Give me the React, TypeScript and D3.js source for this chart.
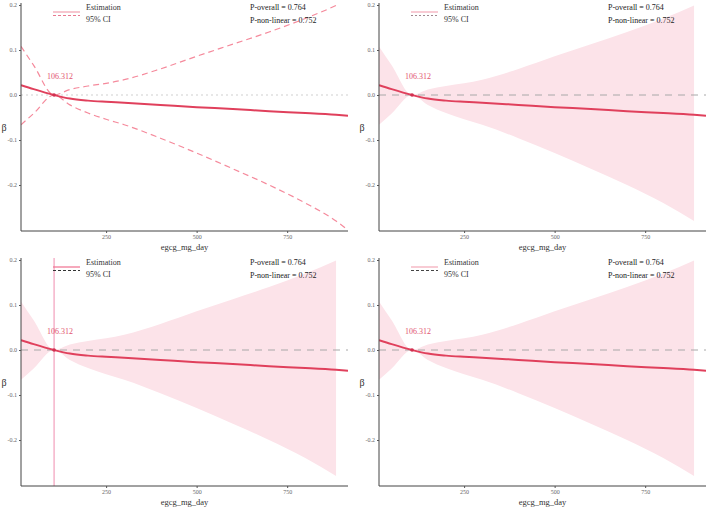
import * as d3 from "d3";
import { useEffect, useRef } from "react";

// exposure grid and fitted spline
const X_VALUES = [15, 50, 106.312, 150, 200, 250, 300, 400, 500, 600, 700, 800, 885, 918];
const ESTIMATE = [0.022, 0.013, 0, -0.008, -0.0125, -0.015, -0.017, -0.022, -0.027, -0.031, -0.036, -0.04, -0.044, -0.046];
const CI_LOWER = [-0.066, -0.041, 0, -0.022, -0.04, -0.054, -0.066, -0.096, -0.129, -0.164, -0.2, -0.24, -0.28, -0.3];
const CI_UPPER = [0.108, 0.066, 0, 0.012, 0.02, 0.026, 0.034, 0.058, 0.086, 0.113, 0.14, 0.17, 0.199, 0.212];

const REF_VALUE = 106.312;
const Y_TICKS = [0.2, 0.1, 0, -0.1, -0.2];
const X_TICKS = [250, 500, 750];
const P_LABELS = ["P-overall = 0.764", "P-non-linear = 0.752"];
const LEGEND_LABELS = ["Estimation", "95% CI"];
const X_TITLE = "egcg_mg_day";
const Y_TITLE = "β";

const PLOT = { left: 21, right: 348, top: 5, bottom: 230 };
const FONT = "'Liberation Serif', 'DejaVu Serif', serif";
const LINE_COLOR = "#e0405c";

type PanelStyle = {
  dx: number;
  dy: number;
  ribbon: boolean;
  vline: boolean;
  zeroDash: string;
  zeroColor: string;
  legendSolid: string;
  legendDash: string;
  legendDashArray: string;
};

const PANELS: PanelStyle[] = [
  { dx: 0, dy: 0, ribbon: false, vline: false, zeroDash: "2,3", zeroColor: "#cfcfcf", legendSolid: "#f0a0b0", legendDash: "#e87890", legendDashArray: "3,2" },
  { dx: 358, dy: 0, ribbon: true, vline: false, zeroDash: "7,6", zeroColor: "#a8a8a8", legendSolid: "#f4a8b8", legendDash: "#a08890", legendDashArray: "2,2" },
  { dx: 0, dy: 255, ribbon: true, vline: true, zeroDash: "7,6", zeroColor: "#a8a8a8", legendSolid: "#f07090", legendDash: "#333", legendDashArray: "3,2" },
  { dx: 358, dy: 255, ribbon: true, vline: false, zeroDash: "7,6", zeroColor: "#a8a8a8", legendSolid: "#f4a8b8", legendDash: "#444", legendDashArray: "3,2" },
];

const rows = X_VALUES.map((x, i) => ({
  x,
  est: ESTIMATE[i],
  lo: CI_LOWER[i],
  hi: CI_UPPER[i],
}));

const Panel = ({ p, idx }: { p: PanelStyle; idx: number }) => {
  const xAxisRef = useRef<SVGGElement>(null);
  const yAxisRef = useRef<SVGGElement>(null);

  const xScale = d3.scaleLinear().domain([15, 918]).range([PLOT.left, PLOT.right]);
  const yScale = d3.scaleLinear().domain([-0.3, 0.2]).range([PLOT.bottom, PLOT.top]);

  useEffect(() => {
    if (!xAxisRef.current || !yAxisRef.current) return;
    const styleAxis = (g: d3.Selection<SVGGElement, unknown, null, undefined>) => {
      g.select(".domain").remove();
      g.selectAll(".tick line").attr("stroke", "#555");
      g.selectAll(".tick text")
        .attr("fill", "#666")
        .attr("font-size", 6)
        .attr("font-family", FONT);
    };
    d3.select(xAxisRef.current)
      .call(d3.axisBottom(xScale).tickValues(X_TICKS).tickSize(2).tickPadding(2).tickSizeOuter(0))
      .call(styleAxis);
    d3.select(yAxisRef.current)
      .call(
        d3
          .axisLeft(yScale)
          .tickValues(Y_TICKS)
          .tickFormat((d) => (d as number).toFixed(1))
          .tickSize(2)
          .tickPadding(2)
          .tickSizeOuter(0)
      )
      .call(styleAxis);
  }, []);

  const estLine = d3
    .line<(typeof rows)[number]>()
    .x((d) => xScale(d.x))
    .y((d) => yScale(d.est))
    .curve(d3.curveMonotoneX);
  const loLine = d3
    .line<(typeof rows)[number]>()
    .x((d) => xScale(d.x))
    .y((d) => yScale(d.lo))
    .curve(d3.curveMonotoneX);
  const hiLine = d3
    .line<(typeof rows)[number]>()
    .x((d) => xScale(d.x))
    .y((d) => yScale(d.hi))
    .curve(d3.curveMonotoneX);
  const band = d3
    .area<(typeof rows)[number]>()
    .x((d) => xScale(d.x))
    .y0((d) => yScale(d.lo))
    .y1((d) => yScale(d.hi))
    .curve(d3.curveMonotoneX);
  // ggplot drops rows whose upper limit runs past the axis limit
  const bandRows = rows.filter((d) => d.hi <= 0.2);

  const clipId = `clip-${idx}`;
  const refX = xScale(REF_VALUE);

  return (
    <g transform={`translate(${p.dx},${p.dy})`}>
      <defs>
        <clipPath id={clipId}>
          <rect x={PLOT.left} y={PLOT.top} width={PLOT.right - PLOT.left} height={PLOT.bottom - PLOT.top + 1} />
        </clipPath>
      </defs>
      <g clipPath={`url(#${clipId})`}>
        {p.ribbon && <path d={band(bandRows) ?? ""} fill="#fce3e9" />}
        <line
          x1={PLOT.left}
          x2={PLOT.right}
          y1={yScale(0)}
          y2={yScale(0)}
          stroke={p.zeroColor}
          strokeWidth={1}
          strokeDasharray={p.zeroDash}
        />
        {!p.ribbon && (
          <>
            <path d={loLine(rows) ?? ""} fill="none" stroke="#f58a9c" strokeWidth={1.2} strokeDasharray="6,4" />
            <path d={hiLine(rows) ?? ""} fill="none" stroke="#f58a9c" strokeWidth={1.2} strokeDasharray="6,4" />
          </>
        )}
        <path d={estLine(rows) ?? ""} fill="none" stroke={LINE_COLOR} strokeWidth={2} />
      </g>
      {p.vline && (
        <line x1={refX} x2={refX} y1={PLOT.top - 2} y2={PLOT.bottom + 1} stroke="#f08cae" strokeWidth={1} />
      )}
      <circle cx={refX} cy={yScale(0)} r={1.8} fill="#d23050" />
      <text
        x={refX + 6}
        y={yScale(0.042) + 3}
        textAnchor="middle"
        fontSize={8}
        fontFamily={FONT}
        fill="#e25470"
      >
        {REF_VALUE}
      </text>

      {/* axes */}
      <line x1={PLOT.left} x2={PLOT.left} y1={PLOT.top - 2} y2={PLOT.bottom + 1} stroke="#444" strokeWidth={1} />
      <line x1={PLOT.left} x2={PLOT.right} y1={PLOT.bottom + 1} y2={PLOT.bottom + 1} stroke="#444" strokeWidth={1} />
      <g ref={yAxisRef} transform={`translate(${PLOT.left},0)`} />
      <g ref={xAxisRef} transform={`translate(0,${PLOT.bottom + 1})`} />
      <text
        x={(PLOT.left + PLOT.right) / 2}
        y={250}
        textAnchor="middle"
        fontSize={8.5}
        fontFamily={FONT}
        fill="#333"
      >
        {X_TITLE}
      </text>
      <text x={4} y={131} textAnchor="middle" fontSize={10} fontFamily={FONT} fill="#333">
        {Y_TITLE}
      </text>

      {/* legend */}
      <line x1={53} x2={80} y1={12} y2={12} stroke={p.legendSolid} strokeWidth={1.2} />
      <line
        x1={53}
        x2={80}
        y1={15.5}
        y2={15.5}
        stroke={p.legendDash}
        strokeWidth={1.2}
        strokeDasharray={p.legendDashArray}
      />
      {LEGEND_LABELS.map((t, i) => (
        <text key={t} x={86} y={10 + i * 12} fontSize={8} fontFamily={FONT} fill="#333">
          {t}
        </text>
      ))}
      {P_LABELS.map((t, i) => (
        <text key={t} x={250} y={10 + i * 13} fontSize={8} fontFamily={FONT} fill="#222">
          {t}
        </text>
      ))}
    </g>
  );
};

export default function App() {
  return (
    <svg
      width={709}
      height={508}
      style={{ position: "absolute", left: 0, top: 0, background: "#fff" }}
    >
      <rect width={709} height={508} fill="#fff" />
      {PANELS.map((p, i) => (
        <Panel key={i} p={p} idx={i} />
      ))}
    </svg>
  );
}
